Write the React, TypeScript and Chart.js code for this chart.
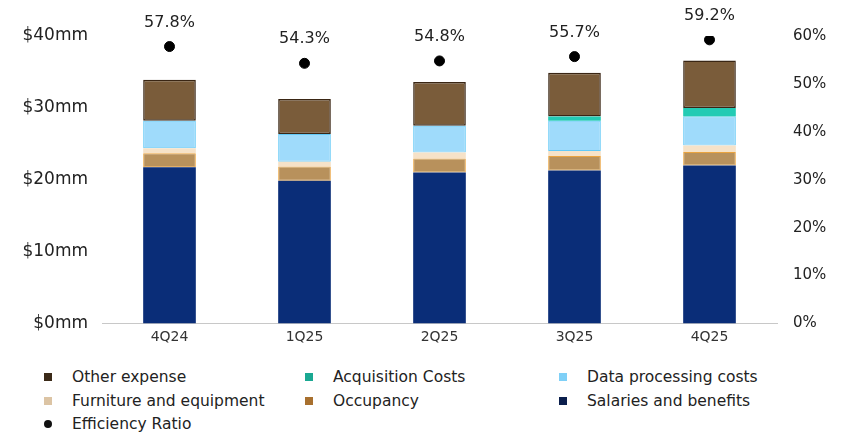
import React, { useEffect, useRef } from "react";
import { Chart, registerables } from "chart.js";

Chart.register(...registerables);

const categories = ["4Q24", "1Q25", "2Q25", "3Q25", "4Q25"];
const salaries = [21.75, 19.85, 21.0, 21.3, 22.0];
const occupancy = [1.95, 2.0, 1.95, 2.0, 1.85];
const furniture = [0.7, 0.65, 0.85, 0.7, 0.9];
const dataProcessing = [3.8, 3.85, 3.7, 4.2, 4.05];
const acquisition = [0, 0, 0, 0.6, 1.2];
const otherExpense = [5.7, 4.9, 6.1, 6.1, 6.6];
const efficiencyRatio = [57.8, 54.3, 54.8, 55.7, 59.2];
const leftTicks = [0, 10, 20, 30, 40];
const rightTicks = [0, 10, 20, 30, 40, 50, 60];

const FONT = "'DejaVu Sans', sans-serif";

const legendItems = [
  { label: "Other expense", color: "#3b2a18", col: 0, row: 0 },
  { label: "Acquisition Costs", color: "#1aa892", col: 1, row: 0 },
  { label: "Data processing costs", color: "#7fd0f7", col: 2, row: 0 },
  { label: "Furniture and equipment", color: "#dcc4a4", col: 0, row: 1 },
  { label: "Occupancy", color: "#a8702e", col: 1, row: 1 },
  { label: "Salaries and benefits", color: "#0b1f4d", col: 2, row: 1 },
  { label: "Efficiency Ratio", color: "#111111", col: 0, row: 2, round: true },
];
const colX = [44, 305, 559];
const rowY = [377, 401, 424];

const labelPlugin = {
  id: "ratioLabels",
  afterDatasetsDraw(chart: any) {
    const idx = chart.data.datasets.findIndex((d: any) => d.type === "line");
    if (idx < 0) return;
    const meta = chart.getDatasetMeta(idx);
    const ctx = chart.ctx;
    ctx.save();
    ctx.font = `16px ${FONT}`;
    ctx.fillStyle = "#222";
    ctx.textAlign = "center";
    ctx.textBaseline = "middle";
    meta.data.forEach((pt: any, i: number) => {
      const v = chart.data.datasets[idx].data[i];
      ctx.fillText(v.toFixed(1) + "%", pt.x, pt.y - 24);
    });
    ctx.restore();
  },
};

export default function App() {
  const ref = useRef<HTMLCanvasElement | null>(null);
  useEffect(() => {
    document.body.style.margin = "0";
    const canvas = ref.current;
    if (!canvas) return;
    const bar = (label: string, data: number[], bg: string, border: string, bw: number) => ({
      type: "bar" as const,
      label,
      data,
      backgroundColor: bg,
      borderColor: border,
      borderWidth: bw,
      borderSkipped: false,
      yAxisID: "y",
      stack: "s",
      order: 2,
      categoryPercentage: 1,
      barPercentage: 0.39,
    });
    const chart = new Chart(canvas, {
      data: {
        labels: categories,
        datasets: [
          bar("Salaries and benefits", salaries, "#0a2d78", "#0a2d78", 0),
          bar("Occupancy", occupancy, "#b8915c", "#eaa33e", 1),
          bar("Furniture and equipment", furniture, "#f6e2c8", "#fbd9b0", 0),
          bar("Data processing costs", dataProcessing, "#9fdbfb", "#62c9f7", 1),
          bar("Acquisition Costs", acquisition, "#23cbb4", "#23cbb4", 0),
          bar("Other expense", otherExpense, "#7a5c3a", "#3a2614", 1.5),
          {
            type: "line" as const,
            label: "Efficiency Ratio",
            data: efficiencyRatio,
            yAxisID: "y1",
            showLine: false,
            pointRadius: 5,
            pointHoverRadius: 5,
            pointBackgroundColor: "#000",
            pointBorderColor: "#000",
            order: 0,
          },
        ],
      } as any,
      options: {
        responsive: false,
        animation: false,
        layout: { padding: { top: 36, left: 2, right: 0, bottom: 0 } },
        plugins: { legend: { display: false }, tooltip: { enabled: false } },
        scales: {
          x: {
            stacked: true,
            grid: { display: false, drawTicks: false },
            border: { display: true, color: "#c8c8c8", width: 1 },
            ticks: { font: { family: FONT, size: 14 }, color: "#333", padding: 5 },
            afterFit: (s: any) => { s.height = 31.5; },
          },
          y: {
            stacked: true,
            position: "left",
            min: 0,
            max: 40,
            afterBuildTicks: (s: any) => { s.ticks = leftTicks.map((v) => ({ value: v })); },
            grid: { display: false, drawTicks: false },
            border: { display: false },
            ticks: {
              font: { family: FONT, size: 17 },
              color: "#222",
              padding: 14,
              callback: (v: any) => `$${v}mm`,
            },
            afterFit: (s: any) => { s.width = 100; },
          },
          y1: {
            position: "right",
            min: 0,
            max: 60,
            afterBuildTicks: (s: any) => { s.ticks = rightTicks.map((v) => ({ value: v })); },
            grid: { display: false, drawTicks: false },
            border: { display: false },
            ticks: {
              font: { family: FONT, size: 15 },
              color: "#222",
              padding: 16,
              callback: (v: any) => `${v}%`,
            },
            afterFit: (s: any) => { s.width = 66; },
          },
        },
      } as any,
      plugins: [labelPlugin],
    });
    return () => chart.destroy();
  }, []);

  return (
    <div style={{ position: "relative", width: 843, height: 436, background: "#fff", fontFamily: FONT }}>
      <canvas ref={ref} width={843} height={355} style={{ display: "block" }} />
      {legendItems.map((it) => (
        <div
          key={it.label}
          style={{
            position: "absolute",
            left: colX[it.col],
            top: rowY[it.row] - 11,
            height: 22,
            display: "flex",
            alignItems: "center",
            fontSize: 15.5,
            color: "#222",
            whiteSpace: "nowrap",
          }}
        >
          <span
            style={{
              display: "inline-block",
              width: 8,
              height: 8,
              background: it.color,
              borderRadius: it.round ? 4 : 0,
              marginRight: 20,
            }}
          />
          {it.label}
        </div>
      ))}
    </div>
  );
}
